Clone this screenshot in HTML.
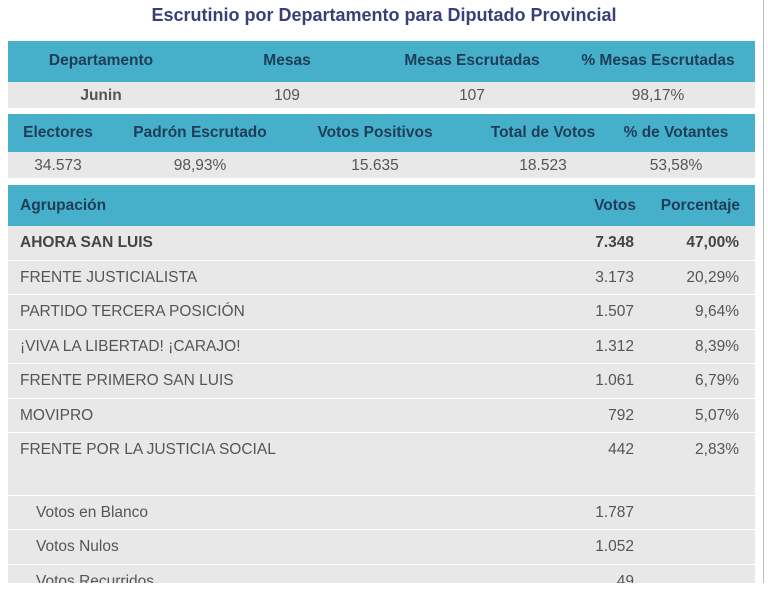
<!DOCTYPE html>
<html style="overflow:hidden;height:590px"><head><meta charset="utf-8"><style>
html,body{margin:0;height:590px;overflow:hidden}
body{width:768px;background:#fff;font-family:"Liberation Sans",sans-serif;position:relative}
.a{position:absolute}
.hd{background:#46afc9;left:8px;width:747px}
.rw{background:#e8e8e8;left:8px;width:747px;overflow:hidden}
.h{position:absolute;color:#1f3d58;font-weight:bold;font-size:15.5px;white-space:nowrap}
.t{position:absolute;color:#555;font-size:15.5px;white-space:nowrap}
.c{transform:translateX(-50%)}
.r{transform:translateX(-100%)}
</style></head><body>
<div class="a" style="left:0;width:768px;top:5px;text-align:center;font-weight:bold;font-size:18px;color:#3b3f78">Escrutinio por Departamento para Diputado Provincial</div>
<div class="a" style="left:763px;top:0;width:1px;height:583px;background:#bbb"></div>

<div class="a hd" style="top:41px;height:41px">
<span class="h c" style="left:93px;top:11px">Departamento</span>
<span class="h c" style="left:279px;top:11px">Mesas</span>
<span class="h c" style="left:464px;top:11px">Mesas Escrutadas</span>
<span class="h c" style="left:650px;top:11px">% Mesas Escrutadas</span>
</div>
<div class="a rw" style="top:82px;height:26px">
<span class="t c" style="left:93px;top:5px;font-weight:bold">Junin</span>
<span class="t c" style="left:279px;top:5px">109</span>
<span class="t c" style="left:464px;top:5px">107</span>
<span class="t c" style="left:650px;top:5px">98,17%</span>
</div>

<div class="a hd" style="top:114px;height:38px">
<span class="h c" style="left:50px;top:10px">Electores</span>
<span class="h c" style="left:192px;top:10px">Padrón Escrutado</span>
<span class="h c" style="left:367px;top:10px">Votos Positivos</span>
<span class="h c" style="left:535px;top:10px">Total de Votos</span>
<span class="h c" style="left:668px;top:10px">% de Votantes</span>
</div>
<div class="a rw" style="top:152px;height:26px">
<span class="t c" style="left:50px;top:5px">34.573</span>
<span class="t c" style="left:192px;top:5px">98,93%</span>
<span class="t c" style="left:367px;top:5px">15.635</span>
<span class="t c" style="left:535px;top:5px">18.523</span>
<span class="t c" style="left:668px;top:5px">53,58%</span>
</div>

<div class="a hd" style="top:185px;height:41px">
<span class="h" style="left:12px;top:12px">Agrupación</span>
<span class="h r" style="left:628px;top:12px">Votos</span>
<span class="h r" style="left:732px;top:12px">Porcentaje</span>
</div>
<div id="rows"></div>
<script>
const parties=["AHORA SAN LUIS","FRENTE JUSTICIALISTA","PARTIDO TERCERA POSICIÓN","¡VIVA LA LIBERTAD! ¡CARAJO!","FRENTE PRIMERO SAN LUIS","MOVIPRO","FRENTE POR LA JUSTICIA SOCIAL"];
const votes=["7.348","3.173","1.507","1.312","1.061","792","442"];
const pcts=["47,00%","20,29%","9,64%","8,39%","6,79%","5,07%","2,83%"];
const others=["Votos en Blanco","Votos Nulos","Votos Recurridos"];
const otherVotes=["1.787","1.052","49"];
const box=document.getElementById('rows');
function mk(top,h,name){const d=document.createElement('div');d.className='a rw';d.style.top=top+'px';d.style.height=Math.min(h,583-top)+'px';


box.appendChild(d);return d;}
function sp(p,txt,cls,left,bold){const s=document.createElement('span');s.className='t '+cls;s.style.left=left+'px';s.style.top='8px';s.textContent=txt;if(bold){s.style.fontWeight='bold';s.style.color='#444';}p.appendChild(s);return s;}
parties.forEach((p,i)=>{const d=mk(226+i*34.5,33.5,'party-row');const b=i===0;
sp(d,p,'',12,b);sp(d,votes[i],'r',626,b);sp(d,pcts[i],'r',731,b);});
mk(467,27.5,'empty-row');
others.forEach((p,i)=>{const d=mk(495.5+i*34.5,33.5,'other-votes-row');sp(d,p,'',28,false);sp(d,otherVotes[i],'r',626,false);});
</script>
</body></html>
